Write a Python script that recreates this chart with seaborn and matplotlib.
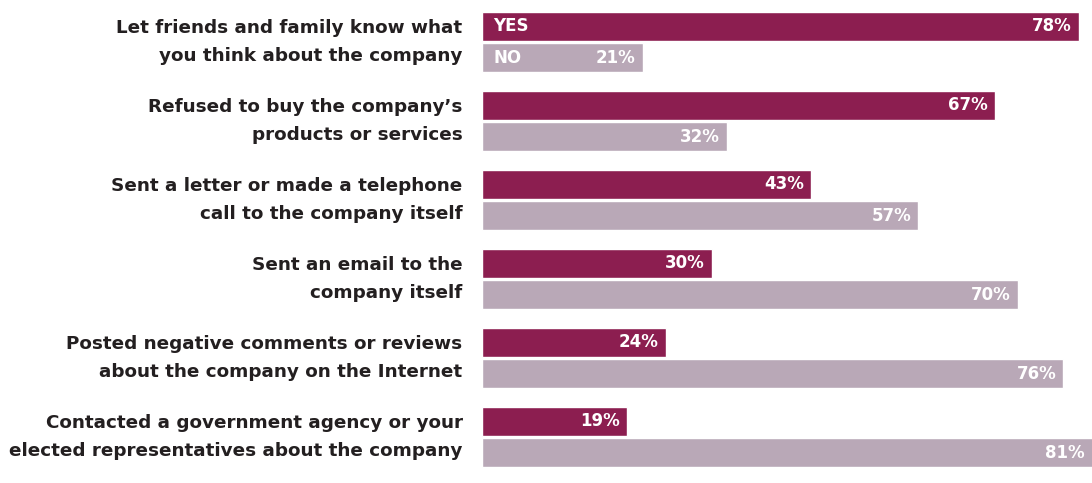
import matplotlib
matplotlib.use("Agg")
import matplotlib.pyplot as plt
import seaborn as sns
import pandas as pd
from matplotlib.transforms import offset_copy

actions = [
    "Let friends and family know what\nyou think about the company",
    "Refused to buy the company\u2019s\nproducts or services",
    "Sent a letter or made a telephone\ncall to the company itself",
    "Sent an email to the\ncompany itself",
    "Posted negative comments or reviews\nabout the company on the Internet",
    "Contacted a government agency or your\nelected representatives about the company",
]
yes_pct = [78, 67, 43, 30, 24, 19]
no_pct = [21, 32, 57, 70, 76, 81]
answers = ["YES", "NO"]
palette = {"YES": "#8C1E50", "NO": "#B9A8B7"}

df = pd.DataFrame({
    "action": actions * 2,
    "answer": ["YES"] * len(actions) + ["NO"] * len(actions),
    "pct": yes_pct + no_pct,
})

sns.set_style("white")
plt.rcParams["font.family"] = ["DejaVu Sans"]

fig = plt.figure(figsize=(10.92, 4.83), dpi=100)
ax = fig.add_axes([482 / 1092, (483 - 476.5) / 483, 1 - 482 / 1092, 474 / 483])

sns.barplot(data=df, y="action", x="pct", hue="answer", order=actions,
            hue_order=answers, palette=palette, orient="h", width=0.785,
            gap=0.064, saturation=1, legend=False, ax=ax)

xmax = (1092 - 482) / 7.65
ax.set_xlim(0, xmax)
ax.set_ylim(len(actions) - 0.5, -0.5)

ax.set_xticks([])
ax.set_xlabel("")
ax.set_ylabel("")
ax.tick_params(axis="y", length=0, pad=14)
ax.set_yticks(range(len(actions)))
ax.set_yticklabels(actions, fontsize=13.2, fontweight="bold", color="#231F20",
                   linespacing=1.69, ha="right", va="center")
for s in ax.spines.values():
    s.set_visible(False)

# value labels at the end of each bar, answer tags at the start of the first pair
for container, ans in zip(ax.containers, answers):
    for i, bar in enumerate(container.patches):
        v = bar.get_width()
        yc = bar.get_y() + bar.get_height() / 2
        tr = offset_copy(ax.transData, fig=fig, x=-5, y=0, units="points")
        ax.text(min(v, xmax), yc, f"{int(round(v))}%", transform=tr,
                ha="right", va="center", color="white", fontsize=12,
                fontweight="bold")
        if i == 0:
            tr2 = offset_copy(ax.transData, fig=fig, x=8, y=0, units="points")
            ax.text(0, yc, ans, transform=tr2, ha="left", va="center",
                    color="white", fontsize=12, fontweight="bold")

fig.savefig("out.png", dpi=100)
